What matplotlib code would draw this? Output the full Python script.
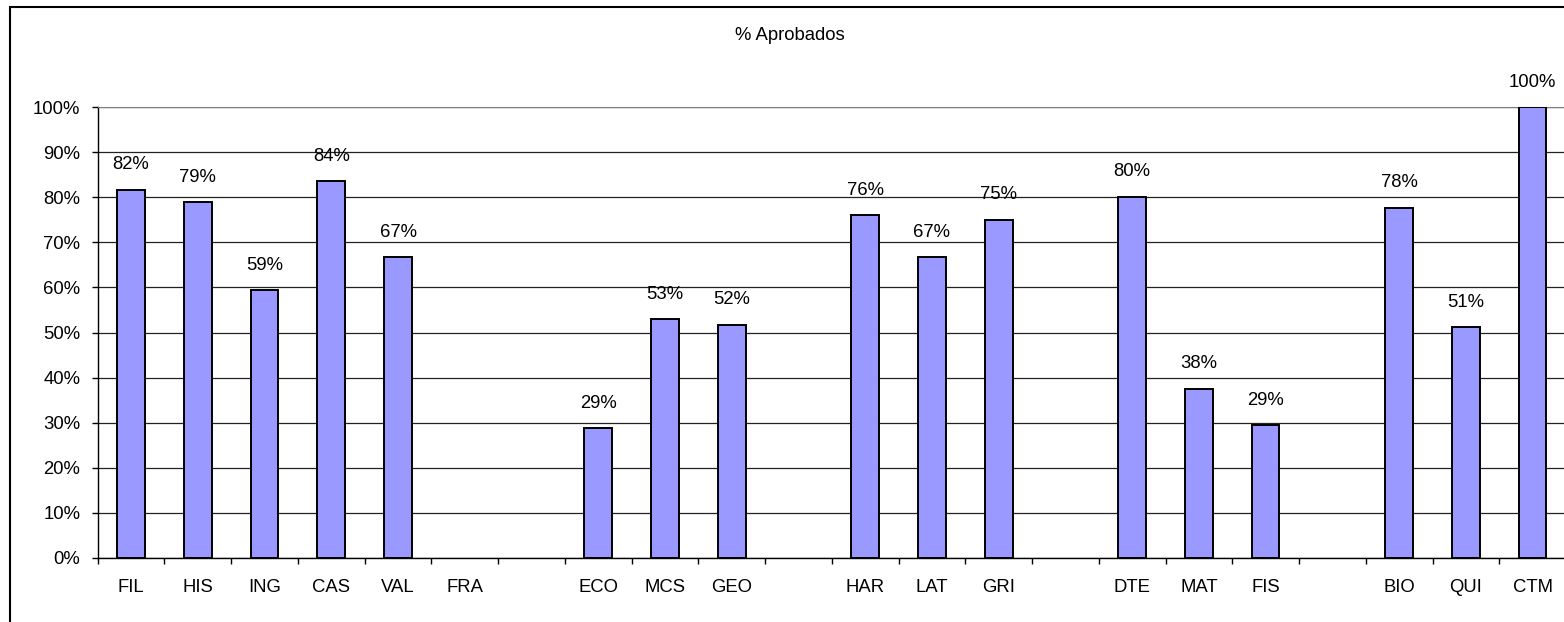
import numpy as np
import matplotlib
matplotlib.use("Agg")
import matplotlib.pyplot as plt
from matplotlib.patches import Rectangle

categories = ["FIL", "HIS", "ING", "CAS", "VAL", "FRA", "", "ECO", "MCS", "GEO", "",
              "HAR", "LAT", "GRI", "", "DTE", "MAT", "FIS", "", "BIO", "QUI", "CTM"]
values = [81.7, 78.9, 59.4, 83.6, 66.7, None, None, 28.7, 52.9, 51.7, None,
          76.0, 66.7, 75.0, None, 80.1, 37.5, 29.4, None, 77.7, 51.2, 100.0]
yticks = [0, 10, 20, 30, 40, 50, 60, 70, 80, 90, 100]
title = "% Aprobados"

plt.rcParams['font.family'] = ['Liberation Sans', 'DejaVu Sans']

W, H = 1564, 622
fig = plt.figure(figsize=(W / 100, H / 100), dpi=100)
left_px, zero_px, top_px, step = 97.7, 557.7, 107.3, 66.74
ax = fig.add_axes([left_px / W, (H - zero_px) / H, 22 * step / W, (zero_px - top_px) / H])

FS = 13.3
x = np.arange(len(categories))
xs = [xi for xi, v in zip(x, values) if v is not None]
vs = [v for v in values if v is not None]
ax.bar(xs, vs, width=0.415, color='#9999FF', edgecolor='black', linewidth=1.4, zorder=3)
for xi, v in zip(xs, vs):
    ax.annotate(f"{round(v)}%", (xi, v), xytext=(0, 18), textcoords='offset points',
                ha='center', va='center', fontsize=FS, color='black')

ax.set_xlim(-0.5, len(categories) - 0.5)
ax.set_ylim(0, 100)
ax.set_yticks(yticks)
ax.set_yticklabels([f"{t}%" for t in yticks], fontsize=FS)
ax.set_xticks(x)
ax.set_xticklabels(categories, fontsize=FS)
ax.set_xticks(np.arange(-0.5, len(categories), 1.0), minor=True)
ax.tick_params(axis='x', which='major', length=0, pad=15)
ax.tick_params(axis='x', which='minor', length=4.5, width=1, direction='out')
ax.tick_params(axis='y', length=4.5, width=1, direction='out', pad=8)
ax.yaxis.grid(True, color='#222222', linewidth=0.9, zorder=0)
ax.set_axisbelow(True)
for s in ['left', 'bottom']:
    ax.spines[s].set_color('black')
    ax.spines[s].set_linewidth(1.0)
ax.spines['top'].set_color('#808080')
ax.spines['right'].set_color('#808080')

fig.text(790 / W, 1 - 36 / H, title, ha='center', va='center', fontsize=FS)
fig.patches.append(Rectangle((10 / W, -0.1), 1.2, (H - 7) / H + 0.1, transform=fig.transFigure,
                             fill=False, edgecolor='black', linewidth=1.5))

fig.savefig("out.png", dpi=100)
